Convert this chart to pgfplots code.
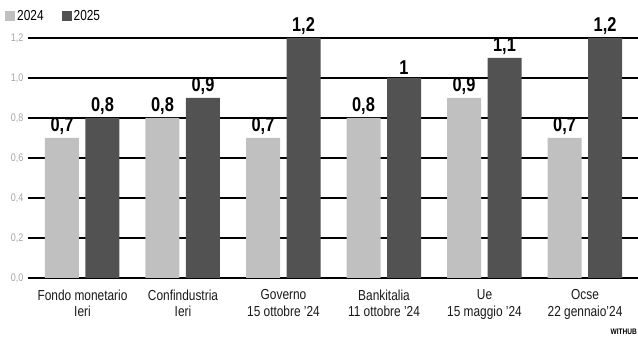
\documentclass[border=0pt]{standalone}
\usepackage{pgfplots}
\pgfplotsset{compat=1.18}
\usepackage{fontspec}
\setmainfont{Liberation Sans}[FakeStretch=0.82]
\definecolor{light}{RGB}{192,192,192}
\definecolor{dark}{RGB}{82,82,82}
\definecolor{ticktext}{RGB}{165,165,165}
\pgfplotstableread{
x y24 y25
0 0.7 0.8
1 0.8 0.9
2 0.7 1.2
3 0.8 1.0
4 0.9 1.1
5 0.7 1.2
}\data
\begin{document}
\begin{tikzpicture}
\path[use as bounding box] (-28pt,-59pt) rectangle (610pt,278pt);
\begin{axis}[
  scale only axis,
  width=610pt, height=240pt,
  xmin=-0.542, xmax=5.527,
  ymin=0, ymax=1.2,
  axis x line*=bottom,
  axis y line*=left,
  y axis line style={draw=none},
  x axis line style={line width=1.6pt, black},
  ytick={0,0.2,...,1.2},
  ymajorgrids,
  grid style={line width=1.1pt, black},
  xtick=data,
  xticklabels={{Fondo monetario\\Ieri},{Confindustria\\Ieri},{Governo\\15 ottobre '24},{Bankitalia\\11 ottobre '24},{Ue\\15 maggio '24},{Ocse\\22 gennaio'24}},
  xticklabel style={align=center, font=\fontsize{14.5pt}{16.5pt}\selectfont, text=black!90, yshift=-8pt},
  yticklabel style={font=\fontsize{11pt}{12pt}\selectfont, text=ticktext, xshift=-1pt, /pgf/number format/fixed, /pgf/number format/fixed zerofill, /pgf/number format/precision=1, /pgf/number format/use comma},
  major tick length=0pt,
  /pgf/number format/assume math mode=true,
  ytick style={draw=none},
  xtick style={draw=none},
  ybar, bar width=34pt,
  nodes near coords,
  nodes near coords style={/pgf/number format/use comma, font=\bfseries\fontsize{20pt}{21pt}\selectfont, text=black},
  legend style={at={(axis description cs:0,1)}, anchor=south west, xshift=-23pt, yshift=14pt, draw=none, fill=none, font=\fontsize{14.5pt}{16pt}\selectfont, legend columns=2, /tikz/every even column/.append style={column sep=16pt}, inner sep=0pt},
  legend image code/.code={\path[#1, draw=none] (0pt,-5pt) rectangle (10pt,5pt);},
  clip=false,
]
\addplot[fill=light, draw=none, bar shift=-20.5pt] table[x=x, y=y24] {\data};
\addplot[fill=dark, draw=none, bar shift=20pt] table[x=x, y=y25] {\data};
\legend{2024,2025}
\end{axis}
\node[anchor=south east, font=\bfseries\fontsize{8pt}{9pt}\selectfont, inner sep=0pt] at (609pt,-57pt) {WITHUB};
\end{tikzpicture}
\end{document}
